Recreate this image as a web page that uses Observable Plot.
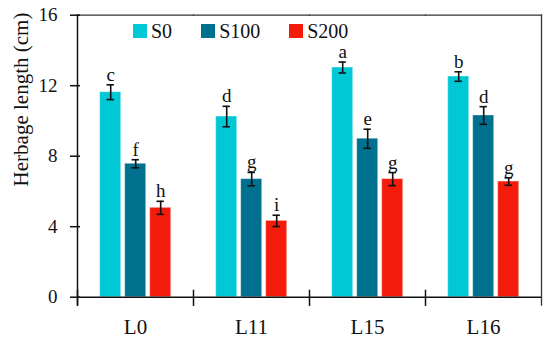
<!DOCTYPE html>
<html>
<head>
<meta charset="utf-8">
<script src="https://cdn.jsdelivr.net/npm/d3@7"></script>
<script src="https://cdn.jsdelivr.net/npm/@observablehq/plot@0.6"></script>
<style>
  html, body { margin: 0; padding: 0; background: #fff; }
  #chart { position: relative; width: 550px; height: 338px; font-family: "Liberation Serif", serif; }
  #chart svg, #chart svg text { font-family: "Liberation Serif", serif !important; }
  #legend { position: absolute; left: 133px; top: 23.5px; display: flex; align-items: center; font-size: 20px; line-height: 15px; color: #111; }
  #legend .item { display: flex; align-items: center; height: 15px; }
  #legend .sw { width: 14px; height: 13.5px; margin-right: 4px; }
</style>
</head>
<body>
<div id="chart"><div id="legend"></div></div>
<script>
const groups = ["L0", "L11", "L15", "L16"];
const series = ["S0", "S100", "S200"];
const colors = ["#00c8d5", "#00708f", "#f31c0c"];
const S0 = [11.63, 10.25, 13.03, 12.52];
const S100 = [7.57, 6.70, 8.99, 10.31];
const S200 = [5.07, 4.33, 6.70, 6.56];
const errS0 = [0.42, 0.58, 0.31, 0.27];
const errS100 = [0.23, 0.38, 0.54, 0.50];
const errS200 = [0.37, 0.32, 0.37, 0.21];
const lettersS0 = ["c", "d", "a", "b"];
const lettersS100 = ["f", "g", "e", "d"];
const lettersS200 = ["h", "i", "g", "g"];
const yTicks = [0, 4, 8, 12, 16];
const yLabel = "Herbage length (cm)";

const vals = {S0, S100, S200};
const errs = {S0: errS0, S100: errS100, S200: errS200};
const lets = {S0: lettersS0, S100: lettersS100, S200: lettersS200};
const data = [];
groups.forEach((g, i) => series.forEach(s => data.push({
  group: g, series: s, value: vals[s][i], err: errs[s][i], letter: lets[s][i]
})));

const lineColor = "#111";
const plot = Plot.plot({
  width: 550,
  height: 338,
  marginLeft: 77.3,
  marginRight: 8.5,
  marginTop: 14.7,
  marginBottom: 41.3,
  style: {fontFamily: "Liberation Serif", background: "#fff", color: "#111"},
  fx: {domain: groups, padding: 0},
  x: {domain: series, paddingInner: 0.17, paddingOuter: 0.842, axis: null},
  y: {domain: [0, 16]},
  color: {domain: series, range: colors},
  marks: [
    Plot.barY(data, {fx: "group", x: "series", y: "value", fill: "series", stroke: "#fff", strokeOpacity: 0.35, strokeWidth: 1}),
    Plot.ruleX(data, {fx: "group", x: "series", y1: d => d.value - d.err, y2: d => d.value + d.err, stroke: lineColor, strokeWidth: 1.6}),
    Plot.tickY(data, {fx: "group", x: "series", y: d => d.value + d.err, stroke: lineColor, strokeWidth: 1.6, insetLeft: 6.8, insetRight: 6.8}),
    Plot.tickY(data, {fx: "group", x: "series", y: d => d.value - d.err, stroke: lineColor, strokeWidth: 1.6, insetLeft: 6.8, insetRight: 6.8}),
    Plot.text(data, {fx: "group", x: "series", y: d => d.value + d.err, text: "letter", lineAnchor: "bottom", dy: -4, fontSize: 19, fill: "#111"}),
    Plot.ruleY([0], {stroke: lineColor, strokeWidth: 1.5}),
    Plot.frame({anchor: "top", stroke: "#333", strokeWidth: 1.3}),
    Plot.frame({anchor: "left", facetAnchor: "left", stroke: lineColor, strokeWidth: 1.5, insetBottom: -7.5}),
    Plot.frame({anchor: "right", facetAnchor: "right", stroke: "#333", strokeWidth: 1.3, insetBottom: -8}),
    Plot.frame({anchor: "left", stroke: lineColor, strokeWidth: 1.5, insetTop: 275.3, insetBottom: -8}),
    Plot.axisY({ticks: yTicks, tickSize: 10, dx: 3, tickPadding: 13, fontSize: 19, label: null, stroke: lineColor, strokeWidth: 1.5, fill: "#111"}),
    Plot.axisFx({anchor: "bottom", tickSize: 0, tickPadding: 22, fontSize: 21, label: null, fill: "#111"}),
    Plot.text([yLabel], {frameAnchor: "top-left", facetAnchor: "left", rotate: -90, textAnchor: "middle", dx: -64, dy: 84.3, fontSize: 21, fill: "#111"})
  ]
});
document.getElementById("chart").prepend(plot);

const legend = d3.select("#legend");
series.forEach((s, i) => {
  const item = legend.append("div").attr("class", "item").style("margin-right", i < series.length - 1 ? "29px" : "0");
  item.append("div").attr("class", "sw").style("background", colors[i]);
  item.append("span").text(s);
});
</script>
</body>
</html>
